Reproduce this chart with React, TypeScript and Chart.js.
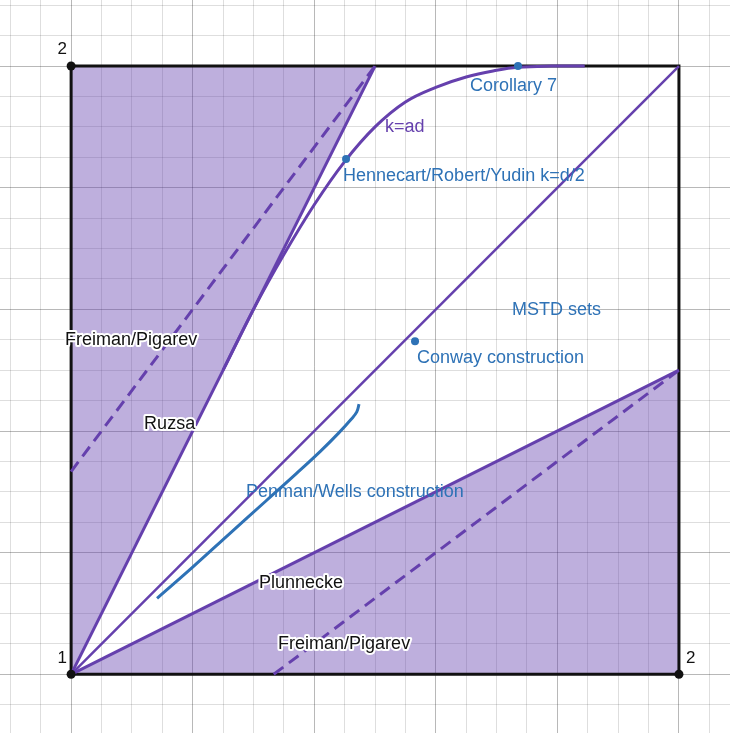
import React, { useEffect, useRef } from 'react';
import { Chart, registerables } from 'chart.js';

Chart.register(...registerables);

// ---- data (in plot units) ----
const squareX = [1, 2, 2, 1, 1];
const squareY = [1, 1, 2, 2, 1];

const upperRegionX = [1, 1, 1.5, 1];
const upperRegionY = [1, 2, 2, 1];
const lowerRegionX = [1, 2, 2, 1];
const lowerRegionY = [1, 1, 1.5, 1];

const ruzsaX = [1, 1.5];
const ruzsaY = [1, 2];
const plunneckeX = [1, 2];
const plunneckeY = [1, 1.5];
const diagonalX = [1, 2];
const diagonalY = [1, 2];
const freimanUpperX = [1, 1.5];
const freimanUpperY = [1.3333, 2];
const freimanLowerX = [1.3333, 2];
const freimanLowerY = [1, 1.5];

const kAdX = [1.25, 1.3, 1.35, 1.4, 1.45, 1.5, 1.55, 1.6, 1.65, 1.7, 1.735, 1.79, 1.845];
const kAdY = [1.5, 1.6, 1.69, 1.772, 1.843, 1.9, 1.941, 1.965, 1.982, 1.993, 1.998, 2, 2];

const penmanX = [1.1414, 1.2, 1.26, 1.32, 1.37, 1.41, 1.44, 1.46, 1.47, 1.4737];
const penmanY = [1.125, 1.1762, 1.2305, 1.2845, 1.3295, 1.3665, 1.3965, 1.4185, 1.4315, 1.4441];

const cornerX = [1, 1, 2];
const cornerY = [1, 2, 1];

const resultX = [1.7352, 1.4523, 1.5658];
const resultY = [2, 1.847, 1.5477];

const labelText = [
  'Corollary 7',
  'k=ad',
  'Hennecart/Robert/Yudin k=d/2',
  'MSTD sets',
  'Conway construction',
  'Penman/Wells construction',
  'Freiman/Pigarev',
  'Ruzsa',
  'Plunnecke',
  'Freiman/Pigarev',
  '2',
  '1',
  '2',
];
const labelX = [1.6562, 1.5164, 1.4474, 1.7253, 1.5691, 1.2878, 0.9901, 1.1201, 1.3092, 1.3405, 0.9775, 0.9775, 2.0115];
const labelY = [1.9589, 1.8914, 1.8109, 1.5905, 1.5115, 1.2911, 1.5411, 1.403, 1.1414, 1.0411, 2.0205, 1.0181, 1.0181];
const labelKind = ['blue', 'purple', 'blue', 'blue', 'blue', 'blue', 'halo', 'halo', 'halo', 'halo', 'num', 'num', 'num'];

// ---- view window ----
const X_MIN = 0.883;
const X_MAX = 2.084;
const Y_MIN = 0.9035;
const Y_MAX = 2.1086;

// ---- styles ----
const PURPLE = '#6540ad';
const FILL = 'rgba(101, 64, 173, 0.42)';
const BLUE = '#2e72b6';
const BLACK = '#111111';
const FONT = '"Liberation Sans", Arial, sans-serif';

const labelStyles: Record<string, { color: string; halo: boolean; size: number }> = {
  blue: { color: BLUE, halo: false, size: 18 },
  purple: { color: PURPLE, halo: false, size: 18 },
  halo: { color: '#111111', halo: true, size: 18 },
  num: { color: '#111111', halo: false, size: 17 },
};

const pts = (xs: number[], ys: number[]) => xs.map((v, i) => ({ x: v, y: ys[i] }));

const isMajor = (v: number) => {
  const r = (v - 1) / 0.2;
  return Math.abs(r - Math.round(r)) < 1e-6;
};

const gridTicks = (min: number, max: number) => {
  const out: { value: number }[] = [];
  const start = Math.ceil(min / 0.05 - 1e-9);
  const end = Math.floor(max / 0.05 + 1e-9);
  for (let k = start; k <= end; k++) out.push({ value: Math.round(k * 0.05 * 1e6) / 1e6 });
  return out;
};

const textPlugin = {
  id: 'textLabels',
  afterDatasetsDraw(chart: any) {
    const { ctx } = chart;
    const xs = chart.scales.x;
    const ys = chart.scales.y;
    ctx.save();
    ctx.textAlign = 'left';
    ctx.textBaseline = 'alphabetic';
    labelText.forEach((t, i) => {
      const st = labelStyles[labelKind[i]];
      const px = xs.getPixelForValue(labelX[i]);
      const py = ys.getPixelForValue(labelY[i]);
      ctx.font = `${st.size}px ${FONT}`;
      if (st.halo) {
        ctx.lineWidth = 4;
        ctx.lineJoin = 'round';
        ctx.strokeStyle = '#ffffff';
        ctx.strokeText(t, px, py);
      }
      ctx.fillStyle = st.color;
      ctx.fillText(t, px, py);
    });
    ctx.restore();
  },
};

export default function App() {
  const canvasRef = useRef<HTMLCanvasElement | null>(null);

  useEffect(() => {
    if (!canvasRef.current) return;
    const lineDs = (xs: number[], ys: number[], color: string, width: number, order: number, extra: any = {}) => ({
      data: pts(xs, ys),
      showLine: true,
      borderColor: color,
      borderWidth: width,
      pointRadius: 0,
      pointHoverRadius: 0,
      fill: false,
      order,
      ...extra,
    });

    const gridColor = (c: any) => (c.tick && isMajor(c.tick.value) ? 'rgba(0,0,0,0.28)' : 'rgba(0,0,0,0.13)');

    const chart = new Chart(canvasRef.current, {
      type: 'scatter',
      data: {
        datasets: [
          {
            data: pts(upperRegionX, upperRegionY),
            showLine: true,
            fill: 'shape',
            backgroundColor: FILL,
            borderColor: 'rgba(0,0,0,0)',
            borderWidth: 1,
            pointRadius: 0,
            order: 30,
          },
          {
            data: pts(lowerRegionX, lowerRegionY),
            showLine: true,
            fill: 'shape',
            backgroundColor: FILL,
            borderColor: 'rgba(0,0,0,0)',
            borderWidth: 1,
            pointRadius: 0,
            order: 30,
          },
          lineDs(squareX, squareY, BLACK, 3, 20),
          lineDs(diagonalX, diagonalY, PURPLE, 2.5, 10),
          lineDs(ruzsaX, ruzsaY, PURPLE, 3, 10),
          lineDs(plunneckeX, plunneckeY, PURPLE, 3, 10),
          lineDs(freimanUpperX, freimanUpperY, PURPLE, 3, 10, { borderDash: [12, 7] }),
          lineDs(freimanLowerX, freimanLowerY, PURPLE, 3, 10, { borderDash: [12, 7] }),
          lineDs(kAdX, kAdY, PURPLE, 3, 8, { tension: 0.4 }),
          lineDs(penmanX, penmanY, BLUE, 3, 8, { tension: 0.4 }),
          {
            data: pts(cornerX, cornerY),
            showLine: false,
            pointRadius: 4.5,
            pointBackgroundColor: BLACK,
            pointBorderWidth: 0,
            order: 2,
          },
          {
            data: pts(resultX, resultY),
            showLine: false,
            pointRadius: 4,
            pointBackgroundColor: BLUE,
            pointBorderWidth: 0,
            order: 2,
          },
        ] as any,
      },
      options: {
        responsive: false,
        animation: false,
        devicePixelRatio: 1,
        layout: { padding: 0, autoPadding: false },
        plugins: {
          legend: { display: false },
          tooltip: { enabled: false },
        },
        events: [],
        scales: {
          x: {
            type: 'linear',
            min: X_MIN,
            max: X_MAX,
            afterBuildTicks: (s: any) => {
              s.ticks = gridTicks(X_MIN, X_MAX);
            },
            ticks: { display: false },
            border: { display: false },
            grid: { drawTicks: false, lineWidth: 1, color: gridColor },
          },
          y: {
            type: 'linear',
            min: Y_MIN,
            max: Y_MAX,
            afterBuildTicks: (s: any) => {
              s.ticks = gridTicks(Y_MIN, Y_MAX);
            },
            ticks: { display: false },
            border: { display: false },
            grid: { drawTicks: false, lineWidth: 1, color: gridColor },
          },
        },
      } as any,
      plugins: [textPlugin],
    });
    return () => chart.destroy();
  }, []);

  return (
    <div style={{ position: 'fixed', left: 0, top: 0, width: 730, height: 733, background: '#ffffff' }}>
      <canvas ref={canvasRef} width={730} height={733} style={{ display: 'block' }} />
    </div>
  );
}
